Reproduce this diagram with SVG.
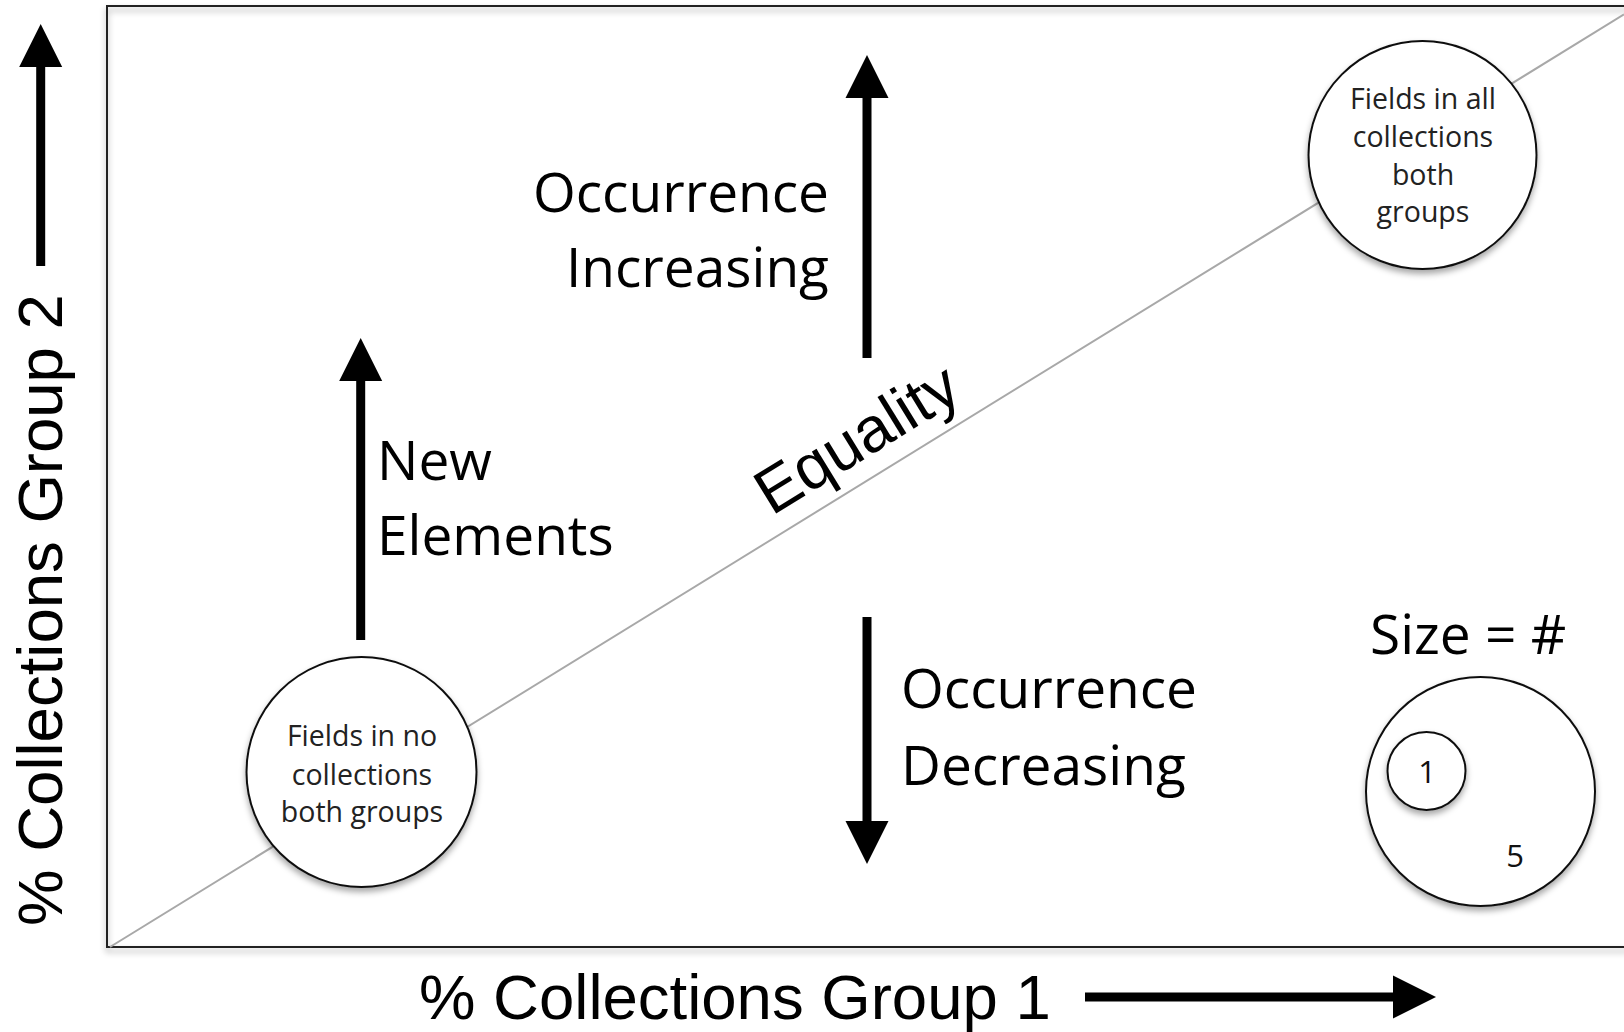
<svg xmlns="http://www.w3.org/2000/svg" width="1624" height="1032" viewBox="0 0 1624 1032">
  <style>
    .big { font-family: "Open Sans", "Liberation Sans", sans-serif; font-size: 55px; fill: #000; }
    .axis { font-family: "Liberation Sans", Arial, sans-serif; font-size: 63.5px; fill: #000; }
    .small { font-family: "Open Sans", "Liberation Sans", sans-serif; font-size: 28.5px; fill: #222; text-anchor: middle; }
    .num { font-family: "Open Sans", "Liberation Sans", sans-serif; font-size: 31px; fill: #111; text-anchor: middle; }
    .node { fill: #fff; stroke: #111; stroke-width: 2; filter: url(#shadow); }
    .arrow { stroke: #000; stroke-width: 9; fill: none; marker-end: url(#head); }
  </style>
  <defs>
    <filter id="shadow" x="-20%" y="-20%" width="140%" height="140%">
      <feDropShadow dx="0" dy="4" stdDeviation="3" flood-color="#000" flood-opacity="0.35"/>
    </filter>
    <marker id="head" markerUnits="userSpaceOnUse" markerWidth="44" markerHeight="44" viewBox="0 0 44 44" refX="0" refY="22" orient="auto">
      <path d="M0,0.5 L43,22 L0,43.5 z" fill="#000"/>
    </marker>
  </defs>
  <rect width="1624" height="1032" fill="#fff"/>

  <g id="plot-frame">
    <rect x="107" y="6" width="1540" height="941" fill="none" stroke="#222" stroke-width="2" filter="url(#shadow)"/>
  </g>

  <g id="connectors">
    <line id="equality-line" x1="110" y1="947" x2="1624" y2="14.4" stroke="#a8a8a8" stroke-width="2"/>
    <line id="y-axis-arrow" class="arrow" x1="40.7" y1="266" x2="40.7" y2="67"/>
    <line id="x-axis-arrow" class="arrow" x1="1085" y1="997" x2="1393" y2="997"/>
    <line id="new-elements-arrow" class="arrow" x1="360.7" y1="640" x2="360.7" y2="381"/>
    <line id="increasing-arrow" class="arrow" x1="867" y1="358" x2="867" y2="98"/>
    <line id="decreasing-arrow" class="arrow" x1="867" y1="617" x2="867" y2="821"/>
  </g>

  <g id="y-axis-label">
    <text class="axis" text-anchor="middle" transform="translate(62,610) rotate(-90)">% Collections Group 2</text>
  </g>
  <g id="x-axis-label">
    <text class="axis" x="419" y="1019">% Collections Group 1</text>
  </g>

  <g id="equality-label">
    <text class="axis" font-size="66" text-anchor="middle" transform="translate(868,457) rotate(-31.6)">Equality</text>
  </g>

  <g id="new-elements-label">
    <text class="big" x="377" y="480">New</text>
    <text class="big" x="377" y="555">Elements</text>
  </g>

  <g id="increasing-label">
    <text class="big" x="829" y="212" text-anchor="end">Occurrence</text>
    <text class="big" x="829" y="287" text-anchor="end">Increasing</text>
  </g>

  <g id="decreasing-label">
    <text class="big" x="901" y="708">Occurrence</text>
    <text class="big" x="901" y="785">Decreasing</text>
  </g>

  <g id="node-none">
    <circle class="node" cx="361.5" cy="772" r="115"/>
    <text class="small" x="362" y="746">Fields in no</text>
    <text class="small" x="362" y="785">collections</text>
    <text class="small" x="362" y="822">both groups</text>
  </g>

  <g id="node-all">
    <circle class="node" cx="1422.5" cy="155" r="114"/>
    <text class="small" x="1423" y="109">Fields in all</text>
    <text class="small" x="1423" y="147">collections</text>
    <text class="small" x="1423" y="185">both</text>
    <text class="small" x="1423" y="222">groups</text>
  </g>

  <g id="legend">
    <text class="big" x="1370" y="654">Size = #</text>
    <g id="legend-5">
      <circle class="node" cx="1480.5" cy="791.5" r="114.5"/>
      <text class="num" x="1515" y="867">5</text>
    </g>
    <g id="legend-1">
      <circle class="node" cx="1426.5" cy="771" r="39"/>
      <text class="num" x="1427" y="783">1</text>
    </g>
  </g>
</svg>
